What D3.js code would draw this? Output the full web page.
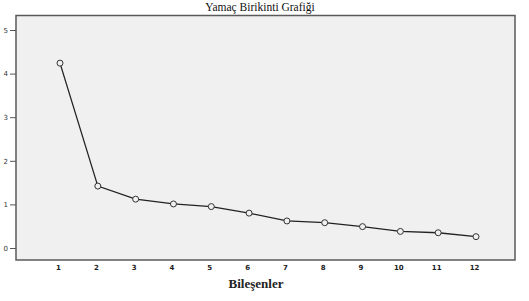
<!DOCTYPE html>
<html>
<head>
<meta charset="utf-8">
<script src="https://cdn.jsdelivr.net/npm/d3@7"></script>
<style>
  body { margin: 0; background: #fff; }
  svg { display: block; }
</style>
</head>
<body>
<div id="container"></div>
<script>
/**
 * CONSTANTS AND GLOBALS
 * */
const width = 529,
  height = 301;

// plot frame (grey panel)
const frame = { left: 16, top: 15.5, right: 515, bottom: 260 };

/**
 * DATA
 * */
const components = [1, 2, 3, 4, 5, 6, 7, 8, 9, 10, 11, 12];
const eigenvalues = [4.24, 1.42, 1.12, 1.01, 0.95, 0.8, 0.62, 0.58, 0.49, 0.38, 0.35, 0.26];
const yTicks = [0, 1, 2, 3, 4, 5];
const title = "Yamaç Birikinti Grafiği";
const xTitle = "Bileşenler";

const svg = d3
  .select("#container")
  .append("svg")
  .attr("width", width)
  .attr("height", height);

const x = d3.scaleLinear().domain([1, 12]).range([60, 476]);
const y = d3.scaleLinear().domain([0, 5]).range([248, 30]);

// panel
svg
  .append("rect")
  .attr("x", frame.left)
  .attr("y", frame.top)
  .attr("width", frame.right - frame.left)
  .attr("height", frame.bottom - frame.top)
  .attr("fill", "#f0f0f0")
  .attr("stroke", "#5a5a5a")
  .attr("stroke-width", 1.5);

// title, sits right at the top edge like the original
svg
  .append("text")
  .attr("x", 260)
  .attr("y", 11)
  .attr("text-anchor", "middle")
  .attr("font-family", "Liberation Serif, Times New Roman, serif")
  .attr("font-size", 11.5)
  .attr("fill", "#111")
  .text(title);

// y axis
const yAxis = d3
  .axisLeft(y)
  .tickValues(yTicks)
  .tickFormat(d3.format("d"))
  .tickSize(6)
  .tickPadding(2);
const gy = svg
  .append("g")
  .attr("transform", `translate(${frame.left},0)`)
  .call(yAxis);
gy.select(".domain").remove();
gy.selectAll(".tick line").attr("stroke", "#555");
gy.selectAll(".tick text")
  .attr("font-family", "DejaVu Sans, sans-serif")
  .attr("font-size", 7)
  .attr("fill", "#333");

// x axis (labels only)
const xAxis = d3
  .axisBottom(x)
  .tickValues(components)
  .tickFormat(d3.format("d"))
  .tickSize(0)
  .tickPadding(5);
const gx = svg
  .append("g")
  .attr("transform", `translate(-2,${frame.bottom})`)
  .call(xAxis);
gx.select(".domain").remove();
gx.selectAll(".tick text")
  .attr("font-family", "DejaVu Sans, sans-serif")
  .attr("font-size", 7)
  .attr("font-weight", "bold")
  .attr("fill", "#222");

// x axis title
svg
  .append("text")
  .attr("x", 256)
  .attr("y", 288)
  .attr("text-anchor", "middle")
  .attr("font-family", "Liberation Serif, Times New Roman, serif")
  .attr("font-size", 13)
  .attr("font-weight", "bold")
  .attr("fill", "#222")
  .text(xTitle);

// scree line
const line = d3
  .line()
  .x((d, i) => x(components[i]))
  .y((d) => y(d));

svg
  .append("path")
  .datum(eigenvalues)
  .attr("d", line)
  .attr("fill", "none")
  .attr("stroke", "#222")
  .attr("stroke-width", 1.3);

svg
  .selectAll("circle.pt")
  .data(eigenvalues)
  .join("circle")
  .attr("class", "pt")
  .attr("cx", (d, i) => x(components[i]))
  .attr("cy", (d) => y(d))
  .attr("r", 3)
  .attr("fill", "#f0f0f0")
  .attr("stroke", "#333")
  .attr("stroke-width", 1);
</script>
</body>
</html>
